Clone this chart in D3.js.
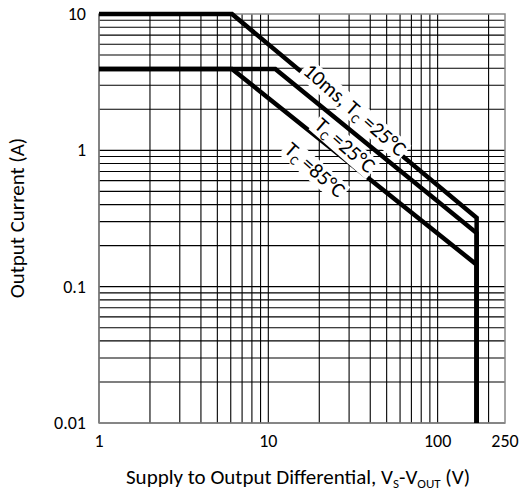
<!DOCTYPE html>
<html><head><meta charset="utf-8">
<script src="https://cdn.jsdelivr.net/npm/d3@7"></script>
<style>body{margin:0;background:#fff}text{font-family:Calibri,Carlito,"Open Sans",sans-serif}</style>
</head><body><svg id="c" width="527" height="501"></svg>
<script>
const xTicks = [1, 10, 100, 250];
const yTicks = [0.01, 0.1, 1, 10];
const curve10ms = [[1, 10], [6.1, 10], [170, 0.32], [170, 0.01]];
const curve25 = [[1, 3.95], [11, 3.95], [170, 0.247], [170, 0.01]];
const curve85 = [[1, 3.95], [6.1, 3.95], [170, 0.145], [170, 0.01]];
const labels = [
  {text: ['10ms, T', 'C', ' =25°C'], at: [32.5, 1.98]},
  {text: ['T', 'C', '  =25°C'], at: [28.4, 1.09]},
  {text: ['T', 'C', '  =85°C'], at: [18.9, 0.72]}
];

const svg = d3.select('#c');
const x = d3.scaleLog().domain([1, 250]).range([99, 505]);
const y = d3.scaleLog().domain([0.01, 10]).range([423, 14]);

// grid
const gx = [], gy = [];
for (let d = 1; d <= 100; d *= 10) for (let m = 1; m <= 9; m++) if (d * m <= 250) gx.push(d * m);
for (let d = 0.01; d < 10; d *= 10) for (let m = 1; m <= 9; m++) gy.push(d * m);
svg.selectAll('.gx').data(gx).enter().append('line')
  .attr('x1', d => x(d)).attr('x2', d => x(d)).attr('y1', 14).attr('y2', 423)
  .attr('stroke', '#000').attr('stroke-width', 1.1);
svg.selectAll('.gy').data(gy).enter().append('line')
  .attr('y1', d => y(d)).attr('y2', d => y(d)).attr('x1', 99).attr('x2', 505)
  .attr('stroke', '#000').attr('stroke-width', 1.1);
svg.append('rect').attr('x', 99).attr('y', 14).attr('width', 406).attr('height', 409)
  .attr('fill', 'none').attr('stroke', '#888').attr('stroke-width', 1.5);

const line = d3.line().x(d => x(d[0])).y(d => y(d[1]));
[curve10ms, curve25, curve85].forEach(c => {
  svg.append('path').attr('d', line(c)).attr('fill', 'none')
    .attr('stroke', '#000').attr('stroke-width', 4.5);
});

labels.forEach(l => {
  const g = svg.append('g').attr('transform', `translate(${x(l.at[0])},${y(l.at[1])}) rotate(41)`);
  const t = g.append('text').attr('font-size', 21).attr('text-anchor', 'middle').attr('dy', 7);
  t.append('tspan').text(l.text[0]);
  t.append('tspan').text(l.text[1]).attr('font-size', 13).attr('dy', 4);
  t.append('tspan').text(l.text[2]).attr('dy', -4);
  const b = t.node().getBBox();
  g.insert('rect', 'text').attr('x', b.x - 2).attr('y', b.y + 3).attr('width', b.width + 4)
    .attr('height', b.height - 5).attr('fill', '#fff');
});

svg.selectAll('.xt').data(xTicks).enter().append('text')
  .attr('x', d => x(d)).attr('y', 447).attr('text-anchor', 'middle').attr('font-size', 18)
  .text(d => d);
svg.selectAll('.yt').data(yTicks).enter().append('text')
  .attr('x', 86).attr('y', d => y(d) + 6).attr('text-anchor', 'end').attr('font-size', 18)
  .text(d => d);

const xl = svg.append('text').attr('x', 298).attr('y', 484).attr('text-anchor', 'middle').attr('font-size', 21);
xl.append('tspan').text('Supply to Output Differential, V');
xl.append('tspan').text('S').attr('font-size', 13).attr('dy', 4);
xl.append('tspan').text('-V').attr('dy', -4);
xl.append('tspan').text('OUT').attr('font-size', 13).attr('dy', 4);
xl.append('tspan').text(' (V)').attr('dy', -4);
svg.append('text').attr('transform', 'translate(24,218) rotate(-90)')
  .attr('text-anchor', 'middle').attr('font-size', 21).text('Output Current (A)');
</script></body></html>
